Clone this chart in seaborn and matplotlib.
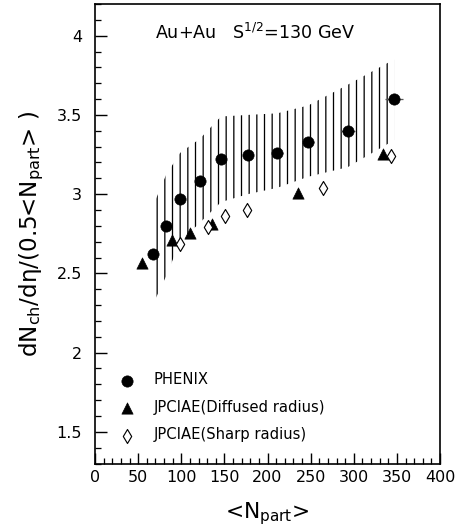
import matplotlib
matplotlib.use("Agg")
import matplotlib.pyplot as plt
import seaborn as sns
import numpy as np
import pandas as pd
from matplotlib.ticker import MultipleLocator, FormatStrFormatter

# PHENIX data, with the systematic band (lower / upper edge at each point)
phenix_npart = [67.6, 82.3, 98.6, 121.7, 146.1, 177.4, 211.4, 247.3, 292.9, 346.7]
phenix_val = [2.62, 2.80, 2.97, 3.08, 3.22, 3.245, 3.26, 3.33, 3.40, 3.60]
phenix_xerr = [2, 3, 3, 4, 4, 5, 6, 7, 8, 10]
band_low = [2.31, 2.48, 2.70, 2.82, 2.95, 3.00, 3.04, 3.11, 3.17, 3.34]
band_high = [2.93, 3.12, 3.26, 3.35, 3.49, 3.50, 3.51, 3.56, 3.69, 3.85]

# JPCIAE, diffused radius
diff_npart = [54.1, 89.7, 110.0, 136.0, 235.7, 334.3]
diff_val = [2.568, 2.709, 2.757, 2.81, 3.01, 3.253]

# JPCIAE, sharp radius
sharp_npart = [98.6, 131.4, 150.7, 175.8, 264.7, 343.2]
sharp_val = [2.688, 2.793, 2.863, 2.90, 3.04, 3.243]

DPI = 92
sns.set_theme(style="ticks")
plt.rcParams["font.family"] = ["DejaVu Sans"]
plt.rcParams["hatch.linewidth"] = 1.0
plt.rcParams["mathtext.default"] = "regular"
plt.rcParams["text.color"] = "black"
plt.rcParams["axes.labelcolor"] = "black"

fig = plt.figure(figsize=(456 / DPI, 531 / DPI), dpi=DPI)
ax = fig.add_axes([95 / 456, 1 - 463.5 / 531, 345 / 456, 459.5 / 531])

# hatched systematic band
ax.fill_between(phenix_npart, band_low, band_high, facecolor="none",
                edgecolor="black", hatch="||", linewidth=0, zorder=1)

ax.errorbar(phenix_npart, phenix_val, xerr=phenix_xerr, fmt="none",
            ecolor="#555555", elinewidth=1, zorder=2)

df_ph = pd.DataFrame({"npart": phenix_npart, "val": phenix_val})
df_diff = pd.DataFrame({"npart": diff_npart, "val": diff_val})
df_sharp = pd.DataFrame({"npart": sharp_npart, "val": sharp_val})

sns.scatterplot(data=df_ph, x="npart", y="val", marker="o", s=78,
                color="black", edgecolor="black", linewidth=0.5,
                label="PHENIX", ax=ax, zorder=3)
sns.scatterplot(data=df_diff, x="npart", y="val", marker="^", s=78,
                color="black", edgecolor="black", linewidth=0.5,
                label="JPCIAE(Diffused radius)", ax=ax, zorder=3)
sns.scatterplot(data=df_sharp, x="npart", y="val", marker="d", s=60,
                color="white", edgecolor="black", linewidth=0.9,
                label="JPCIAE(Sharp radius)", ax=ax, zorder=3)

ax.set_xlim(0, 400)
ax.set_ylim(1.3, 4.2)
ax.xaxis.set_major_locator(MultipleLocator(50))
ax.xaxis.set_minor_locator(MultipleLocator(10))
ax.yaxis.set_major_locator(MultipleLocator(0.5))
ax.yaxis.set_minor_locator(MultipleLocator(0.1))
ax.yaxis.set_major_formatter(FormatStrFormatter("%g"))

ax.tick_params(which="both", direction="in", top=False, right=False,
               colors="black", labelsize=12.5)
ax.tick_params(axis="x", which="major", length=9, width=1.1, pad=5)
ax.tick_params(axis="y", which="major", length=9, width=1.1, pad=10)
ax.tick_params(which="minor", length=4.5, width=1.0)
for sp in ax.spines.values():
    sp.set_linewidth(1.3)
    sp.set_color("black")

ax.set_xlabel(r"<N$_{part}$>", fontsize=17, labelpad=12)
ax.set_ylabel(r"dN$_{ch}$/d$\eta$/(0.5<N$_{part}$> )", fontsize=18, labelpad=8)

ax.text(0.174, 0.937, r"Au+Au   S$^{1/2}$=130 GeV", transform=ax.transAxes,
        fontsize=13.7, va="center", ha="left")

ax.legend(loc="lower left", bbox_to_anchor=(0.055, 0.033), frameon=False,
          fontsize=11.5, handletextpad=1.3, labelspacing=0.85,
          handlelength=1.0, borderaxespad=0)

fig.savefig("out.png", dpi=DPI)
